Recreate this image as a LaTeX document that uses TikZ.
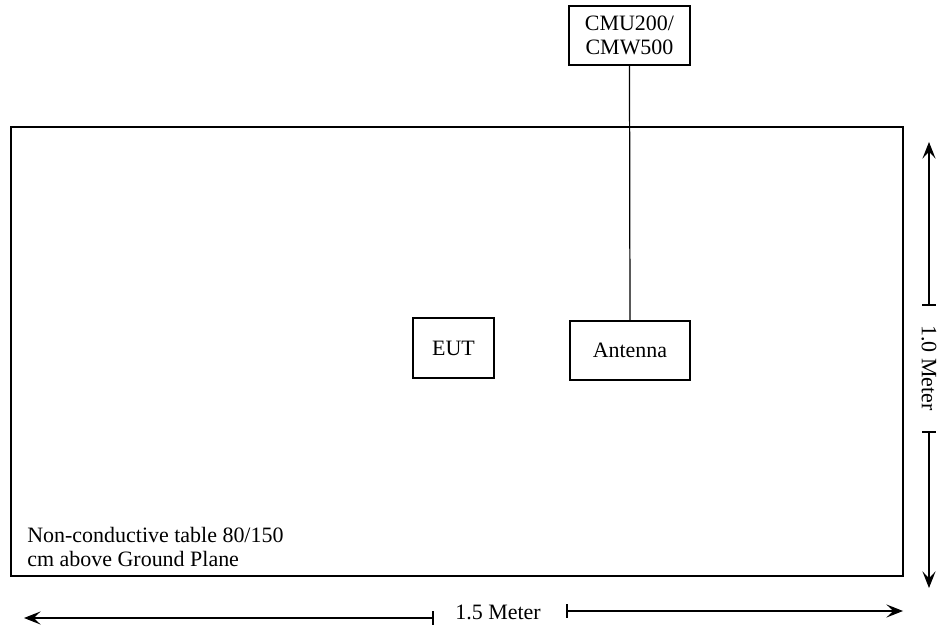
\documentclass[tikz,border=0pt]{standalone}
\usepackage{fontspec}
\setmainfont{Liberation Serif}
\usetikzlibrary{arrows.meta}

\begin{document}
\begin{tikzpicture}[x=0.02cm,y=-0.02cm,font=\fontsize{12.5}{13.5}\selectfont]
\tikzset{box/.style={draw,line width=0.8pt,align=center},
	tip/.style={-{Stealth[length=9.5pt,width=7.5pt,inset=4pt]}},
	tick/.style={line width=0.6pt}}
\useasboundingbox (0,0) rectangle (937,631);

% table
\draw[line width=1.2pt] (11,127) rectangle (903,576);
\node[anchor=west,align=left,inner sep=0pt] (tbl) at (27,547) {Non-conductive table 80/150\\cm above Ground Plane};

% boxes
\node[box,minimum width=2.42cm,minimum height=1.18cm] (cmu) at (629.5,35.5) {CMU200/\\CMW500};
\node[box,minimum width=1.62cm,minimum height=1.2cm] (eut) at (453.5,348) {EUT};
\node[box,minimum width=2.4cm,minimum height=1.18cm] (ant) at (630,350.5) {Antenna};
\draw[line width=0.7pt] (cmu.south) -- (ant.north);

% 1.5 Meter
\coordinate (hl) at (24,618);
\coordinate (hlt) at (433,618);
\coordinate (hrt) at (567,611);
\coordinate (hr) at (903,611);
\node (hlab) at (498,612) {1.5 Meter};
\draw[tick,tip] (hlt) -- (hl);
\draw[tick,tip] (hrt) -- (hr);
\foreach \c in {hlt,hrt}{
	\draw[tick] ([yshift=-0.14cm]\c) -- ([yshift=0.14cm]\c);
	}

% 1.0 Meter
\coordinate (vt) at (929,142);
\coordinate (vtt) at (929,305);
\coordinate (vbt) at (929,432);
\coordinate (vb) at (929,588);
\node[rotate=-90] (vlab) at (929,368) {1.0 Meter};
\draw[tick,tip] (vtt) -- (vt);
\draw[tick,tip] (vbt) -- (vb);
\foreach \c in {vtt,vbt}{
	\draw[tick] ([xshift=-0.14cm]\c) -- ([xshift=0.14cm]\c);
	}
\end{tikzpicture}
\end{document}
